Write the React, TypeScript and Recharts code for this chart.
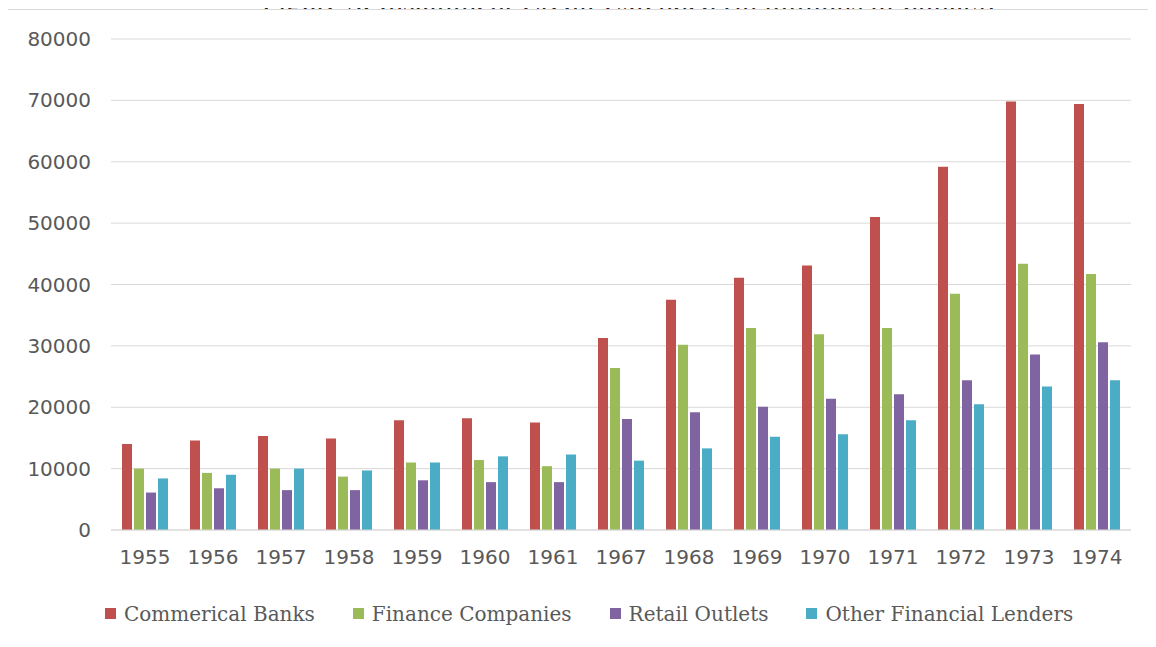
import { BarChart, Bar, XAxis, YAxis, CartesianGrid, Legend } from 'recharts';

const years = ['1955', '1956', '1957', '1958', '1959', '1960', '1961', '1967', '1968', '1969', '1970', '1971', '1972', '1973', '1974'];
const commercialBanks = [14000, 14600, 15300, 14900, 17900, 18200, 17500, 31300, 37500, 41100, 43100, 51000, 59200, 69800, 69400];
const financeCompanies = [10000, 9300, 10000, 8700, 11000, 11400, 10400, 26400, 30200, 32900, 31900, 32900, 38500, 43400, 41700];
const retailOutlets = [6100, 6800, 6500, 6500, 8100, 7800, 7800, 18100, 19200, 20100, 21400, 22100, 24400, 28600, 30600];
const otherLenders = [8400, 9000, 10000, 9700, 11000, 12000, 12300, 11300, 13300, 15200, 15600, 17900, 20500, 23400, 24400];
const yTicks = [0, 10000, 20000, 30000, 40000, 50000, 60000, 70000, 80000];

const series = [
  { key: 'banks', name: 'Commerical Banks', color: '#C0504D' },
  { key: 'finance', name: 'Finance Companies', color: '#9BBB59' },
  { key: 'retail', name: 'Retail Outlets', color: '#8064A2' },
  { key: 'other', name: 'Other Financial Lenders', color: '#4BACC6' },
];

const data = years.map((year, i) => ({
  year,
  banks: commercialBanks[i],
  finance: financeCompanies[i],
  retail: retailOutlets[i],
  other: otherLenders[i],
}));

const tickStyle = { fill: '#595959', fontSize: 20, fontFamily: 'DejaVu Sans' };

const LegendBox = () => (
  <div style={{ display: 'flex', alignItems: 'center', gap: 38, height: 46, paddingLeft: 97, boxSizing: 'border-box', paddingTop: 3 }}>
    {series.map((s) => (
      <div key={s.key} style={{ display: 'flex', alignItems: 'center', gap: 8 }}>
        <span style={{ width: 11, height: 11, background: s.color, display: 'inline-block' }} />
        <span style={{ fontFamily: 'DejaVu Serif', fontSize: 20, color: '#595959', lineHeight: '24px' }}>{s.name}</span>
      </div>
    ))}
  </div>
);

export default function App() {
  return (
    <div style={{ position: 'relative', width: 1148, height: 639 }}>
      {/* title, mostly cut off by the top of the page */}
      <div
        style={{
          position: 'absolute',
          top: -22,
          left: 0,
          width: 1240,
          textAlign: 'center',
          fontFamily: 'Liberation Serif',
          fontSize: 30,
          lineHeight: '30px',
          color: '#222',
          whiteSpace: 'nowrap',
        }}
      >
        Figure 3: Installment Credit Extended (in millions of dollars)
      </div>
      <div
        style={{
          position: 'absolute',
          left: -1,
          top: 1,
          width: 1148,
          height: 637,
          borderTop: '1px solid #d9d9d9',
          borderLeft: '1px solid #d9d9d9',
          background: '#fff',
        }}
      />
      <div style={{ position: 'absolute', left: 0, top: 0 }}>
        <BarChart
          width={1148}
          height={639}
          data={data}
          margin={{ top: 31, right: 25, bottom: 12, left: 0 }}
          barSize={10}
          barGap={2}
        >
          <CartesianGrid vertical={false} stroke="#d9d9d9" />
          <XAxis
            dataKey="year"
            axisLine={{ stroke: '#d9d9d9' }}
            tickLine={false}
            tickMargin={14}
            height={59}
            tick={tickStyle}
          />
          <YAxis
            domain={[0, 80000]}
            ticks={yTicks}
            axisLine={false}
            tickLine={false}
            tickMargin={14}
            width={103}
            tick={tickStyle}
          />
          <Legend verticalAlign="bottom" align="left" content={<LegendBox />} />
          {series.map((s) => (
            <Bar key={s.key} dataKey={s.key} name={s.name} fill={s.color} isAnimationActive={false} />
          ))}
        </BarChart>
      </div>
    </div>
  );
}
